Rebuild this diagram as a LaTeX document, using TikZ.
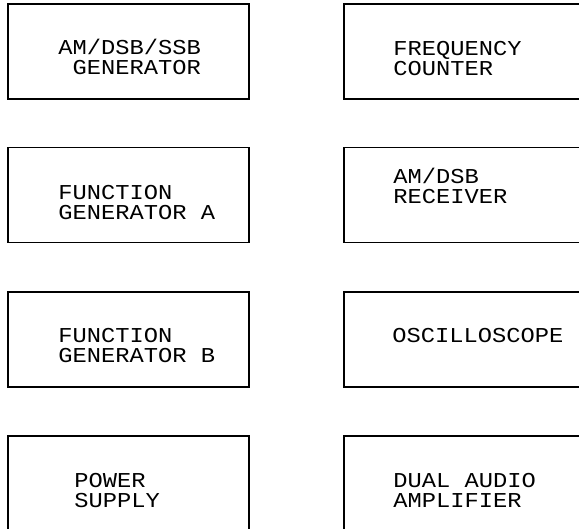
\documentclass[tikz,border=0pt]{standalone}
\usepackage{fontspec}
\setmonofont[FakeStretch=1.12]{Liberation Mono}
\usepackage{tikz}
\usetikzlibrary{positioning}

\begin{document}
\begin{tikzpicture}[x=0.5pt,y=-0.5pt,font=\ttfamily\fontsize{10.6}{10.25}\selectfont]
\tikzset{unit/.style={draw,line width=0.75pt,minimum width=120.5pt,minimum height=47.5pt,inner sep=0pt},
  lbl/.style={anchor=base west,align=left,inner sep=0pt}}
\clip (0,0) rectangle (579,529);
% left column
\node[unit] (amgen) at (128.5,51.5) {};
\node[unit] (fga) at (128.5,195.0) {};
\node[unit] (fgb) at (128.5,339.5) {};
\node[unit] (psu) at (128.5,483.5) {};
% right column
\node[unit] (fcnt) at (464.5,51.5) {};
\node[unit] (rcv) at (464.5,195.0) {};
\node[unit] (scope) at (464.5,339.5) {};
\node[unit] (amp) at (464.5,483.5) {};
% labels (base = last line)
\node[lbl] (amgenT) at (58,75) {AM/DSB/SSB\\\hphantom{G}GENERATOR};
\node[lbl] (fgaT) at (58,220) {FUNCTION\\GENERATOR A};
\node[lbl] (fgbT) at (58,363) {FUNCTION\\GENERATOR B};
\node[lbl] (psuT) at (74,508) {POWER\\SUPPLY};
\node[lbl] (fcntT) at (393,76) {FREQUENCY\\COUNTER};
\node[lbl] (rcvT) at (393,204) {AM/DSB\\RECEIVER};
\node[lbl] (scopeT) at (392,343) {OSCILLOSCOPE};
\node[lbl] (ampT) at (393,508) {DUAL AUDIO\\AMPLIFIER};
\end{tikzpicture}
\end{document}
